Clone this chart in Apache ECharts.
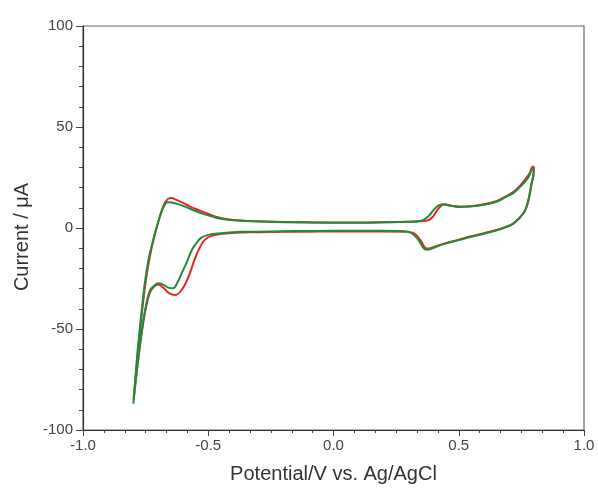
<!DOCTYPE html>
<html>
<head>
<meta charset="utf-8">
<script src="https://cdn.jsdelivr.net/npm/echarts@6/dist/echarts.min.js"></script>
<style>
html,body{margin:0;padding:0;background:#fff;}
#chart{width:598px;height:490px;}
</style>
</head>
<body>
<div id="chart"></div>
<script>
// Tick labels
const xTicks = [-1.0, -0.5, 0.0, 0.5, 1.0];
const yTicks = [-100, -50, 0, 50, 100];

// Red curve: [potential V, current uA], closed CV loop
const redCurve = [
  [-0.798,-85],[-0.786,-68],[-0.776,-55],[-0.763,-40],[-0.749,-26],[-0.736,-16],[-0.717,-5],
  [-0.697,4],[-0.677,11.5],[-0.66,14.5],[-0.648,14.8],[-0.625,13.8],[-0.586,11.5],[-0.55,9.4],
  [-0.52,8],[-0.48,6],[-0.45,5],[-0.40,4],[-0.3,3.3],[-0.2,3],[-0.1,2.8],[0,2.7],[0.1,2.7],
  [0.2,2.8],[0.3,3.1],[0.35,3.4],[0.378,3.8],[0.398,5.8],[0.418,9.5],[0.44,11.6],[0.47,11],
  [0.5,10.6],[0.545,10.8],[0.6,11.8],[0.65,13.3],[0.69,15.8],[0.72,18],[0.745,21],[0.765,24],
  [0.782,27],[0.796,30.5],[0.8,30],
  [0.799,27],[0.792,22.5],[0.78,14.5],[0.762,8],[0.72,2.5],[0.68,0.2],[0.65,-1],[0.6,-2.6],
  [0.545,-4.2],[0.5,-5.8],[0.45,-7.4],[0.425,-8.4],[0.40,-9.4],[0.38,-10.2],[0.365,-9.6],
  [0.352,-7],[0.337,-4.4],[0.318,-2.4],[0.29,-1.8],[0.2,-1.7],[0.1,-1.7],[0,-1.7],[-0.1,-1.8],
  [-0.2,-1.9],[-0.3,-2.1],[-0.37,-2.2],[-0.44,-2.8],[-0.49,-4],[-0.515,-6],[-0.533,-9.5],
  [-0.546,-13],[-0.56,-17.5],[-0.58,-24.5],[-0.605,-30.5],[-0.633,-33.2],[-0.655,-32.4],
  [-0.68,-29.5],[-0.70,-28],[-0.716,-29],[-0.733,-32],[-0.752,-41.5],[-0.771,-57],
  [-0.788,-74],[-0.798,-85]
];

// Green curve: [potential V, current uA], closed CV loop
const greenCurve = [
  [-0.799,-87],[-0.788,-70],[-0.779,-57],[-0.766,-41],[-0.752,-26],[-0.739,-16],[-0.72,-6],
  [-0.70,3],[-0.68,10],[-0.662,12.8],[-0.645,12.6],[-0.62,11.8],[-0.586,10.2],[-0.55,8.4],
  [-0.52,7],[-0.48,5.5],[-0.45,4.6],[-0.40,3.8],[-0.3,3.2],[-0.2,2.9],[-0.1,2.7],[0,2.6],
  [0.1,2.6],[0.2,2.8],[0.3,3.1],[0.35,3.6],[0.38,6],[0.40,9],[0.42,11.2],[0.445,11.8],
  [0.47,11],[0.5,10.4],[0.545,10.6],[0.6,11.5],[0.65,13],[0.69,15.5],[0.72,17.5],[0.745,20.4],
  [0.765,23],[0.78,25.5],[0.794,29],[0.799,29],
  [0.798,26],[0.79,22],[0.778,14],[0.76,7.5],[0.72,2.3],[0.68,0],[0.65,-1.2],[0.6,-2.8],
  [0.545,-4.5],[0.5,-6],[0.45,-7.6],[0.425,-8.6],[0.40,-9.8],[0.375,-10.8],[0.36,-10],
  [0.345,-7],[0.33,-4.5],[0.31,-2.4],[0.28,-1.6],[0.2,-1.4],[0.1,-1.4],[0,-1.4],[-0.1,-1.5],
  [-0.2,-1.6],[-0.3,-1.8],[-0.37,-1.9],[-0.45,-2.6],[-0.5,-3.4],[-0.53,-5],[-0.55,-8],
  [-0.566,-11],[-0.586,-17],[-0.606,-22.4],[-0.625,-27.5],[-0.64,-29.8],[-0.66,-29.5],
  [-0.68,-28],[-0.70,-27.4],[-0.715,-28.5],[-0.733,-31],[-0.752,-40.6],[-0.772,-57],
  [-0.79,-76],[-0.799,-87]
];

const chart = echarts.init(document.getElementById('chart'), null, {renderer:'canvas'});
const font = 'Liberation Sans, Arial, sans-serif';
chart.setOption({
  animation: false,
  backgroundColor: '#fff',
  grid: {left: 83, right: 14, top: 26, bottom: 60, show: true, borderColor: '#666', borderWidth: 1.2},
  xAxis: {
    type: 'value', min: xTicks[0], max: xTicks[xTicks.length-1], interval: 0.5,
    name: 'Potential/V vs. Ag/AgCl', nameLocation: 'middle', nameGap: 34,
    nameTextStyle: {fontFamily: font, fontSize: 20, color: '#333'},
    axisLine: {onZero: false, lineStyle: {color: '#333', width: 1.2}},
    axisTick: {length: 6, lineStyle: {color: '#444'}},
    minorTick: {show: true, splitNumber: 6, length: 3, lineStyle: {color: '#444'}},
    splitLine: {show: false},
    axisLabel: {fontFamily: font, fontSize: 15, color: '#444', margin: 8,
      formatter: v => v.toFixed(1)}
  },
  yAxis: {
    type: 'value', min: yTicks[0], max: yTicks[yTicks.length-1], interval: 50,
    name: 'Current / \u03bcA', nameLocation: 'middle', nameGap: 50,
    nameTextStyle: {fontFamily: font, fontSize: 20, color: '#333', padding: [0, 18, 0, 0]},
    axisLine: {onZero: false, lineStyle: {color: '#333', width: 1.2}},
    axisTick: {length: 7, lineStyle: {color: '#444'}},
    minorTick: {show: true, splitNumber: 5, length: 4, lineStyle: {color: '#444'}},
    splitLine: {show: false},
    axisLabel: {fontFamily: font, fontSize: 15, color: '#444', margin: 10}
  },
  series: [
    {type: 'line', data: redCurve, smooth: 0.4, showSymbol: false, symbol: 'none',
     lineStyle: {color: '#e8262a', width: 2}, z: 2},
    {type: 'line', data: greenCurve, smooth: 0.4, showSymbol: false, symbol: 'none',
     lineStyle: {color: '#208c3a', width: 2}, z: 3}
  ]
});
</script>
</body>
</html>
